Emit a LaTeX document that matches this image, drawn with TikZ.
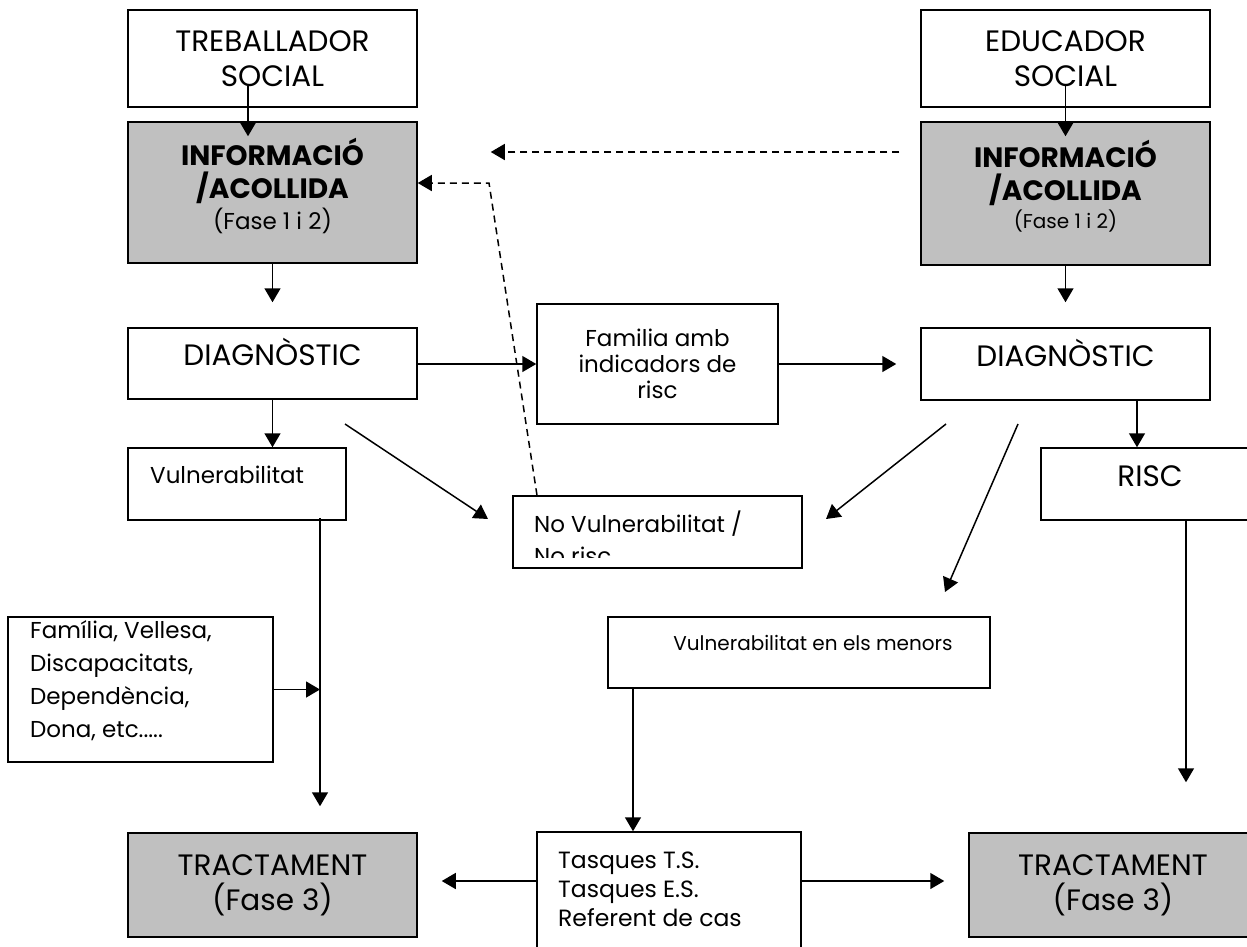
\documentclass[tikz,border=0pt]{standalone}
\usepackage{fontspec}
\setmainfont{Poppins}
\usetikzlibrary{arrows.meta,positioning}
\definecolor{boxgrey}{HTML}{C0C0C0}
\newcommand\fbig{\fontsize{29.5}{35}\selectfont}
\newcommand\fbld{\fontsize{28}{33}\selectfont\bfseries}
\newcommand\fmid{\fontsize{23}{26}\selectfont}
\newcommand\fsml{\fontsize{20}{22}\selectfont}
\newcommand\flst{\fontsize{23}{33}\selectfont}
\tikzset{
  box/.style={draw,line width=1.5pt,inner sep=0pt,align=center},
  greybox/.style={box,fill=boxgrey},
  oneline/.style={text height=0.7em,text depth=0.3em},
  txt/.style={inner sep=0pt,align=left},
  arr/.style={line width=1.5pt,-{Triangle[length=14pt,width=16pt]}},
  dsh/.style={arr,dash pattern=on 7pt off 5pt},
}
\begin{document}
\begin{tikzpicture}[x=1pt,y=-1pt]
\pgfmathsetmacro{\bw}{289}
\useasboundingbox[fill=white] (0,0) rectangle (1247,946);
\node[box,minimum width=\bw pt,minimum height=97pt,font=\fbig] (ts) at (272.5,58.5) {TREBALLADOR\\SOCIAL};
\node[box,minimum width=\bw pt,minimum height=97pt,font=\fbig] (es) at (1065.5,58.5) {EDUCADOR\\SOCIAL};
\node[greybox,minimum width=\bw pt,minimum height=141pt] (infoL) at (272.5,192.5) {};
\node[txt,align=center,font=\fbld] (infoLt) at (272.5,185.5) {INFORMACIÓ\\/ACOLLIDA\\[-2pt]{\fmid\mdseries(Fase 1 i 2)}};
\node[greybox,minimum width=\bw pt,minimum height=143pt] (infoR) at (1065.5,193.5) {};
\node[txt,align=center,font=\fbld] (infoRt) at (1065.5,186.5) {INFORMACIÓ\\/ACOLLIDA\\[-5pt]{\fsml\mdseries(Fase 1 i 2)}};
\node[box,oneline,minimum width=\bw pt,minimum height=71pt,font=\fbig] (diagL) at (272.5,363.5) {DIAGNÒSTIC};
\node[box,oneline,minimum width=\bw pt,minimum height=72pt,font=\fbig] (diagR) at (1065.5,364) {DIAGNÒSTIC};
\node[box,minimum width=241pt,minimum height=120pt,font=\fmid] (fam) at (657.5,364) {Familia amb\\indicadors de\\risc};
\node[box,minimum width=218pt,minimum height=72pt] (vul) at (237,484) {};
\node[txt,anchor=west,font=\fmid] (vult) at (150,475) {Vulnerabilitat};
\node[box,minimum width=\bw pt,minimum height=72pt] (novul) at (657.5,532) {};
\begin{scope}
\clip (513,496) rectangle (802,557);
\node[txt,anchor=base west,font=\fmid] (novulta) at (534,532) {No Vulnerabilitat /};
\node[txt,anchor=base west,font=\fmid] (novultb) at (534,564) {No risc};
\end{scope}
\node[box,oneline,minimum width=218pt,minimum height=72pt,font=\fbig] (risc) at (1150,484) {RISC};
\node[box,minimum width=382pt,minimum height=71pt] (vem) at (799,652.5) {};
\node[txt,font=\fsml] (vemt) at (813,643) {Vulnerabilitat en els menors};
\node[box,minimum width=265pt,minimum height=145pt] (famb) at (140.5,689.5) {};
\node[txt,anchor=west,font=\flst] (fambt) at (30,681) {Família, Vellesa,\\Discapacitats,\\Dependència,\\Dona, etc.....};
\node[box,minimum width=264pt,minimum height=118pt] (tasq) at (669,891) {};
\node[txt,anchor=west,font=\fontsize{23.5}{29}\selectfont] (tasqt) at (558,889) {Tasques T.S.\\Tasques E.S.\\Referent de cas};
\node[greybox,minimum width=\bw pt,minimum height=104pt,font=\fbig] (tractL) at (272.5,885) {TRACTAMENT\\(Fase 3)};
\node[greybox,minimum width=288pt,minimum height=104pt,font=\fbig] (tractR) at (1113,885) {TRACTAMENT\\(Fase 3)};
\coordinate (d1a) at (345,424);
\coordinate (d1b) at (488,519);
\coordinate (d2a) at (946,424);
\coordinate (d2b) at (826,519);
\coordinate (d3a) at (1018,424);
\coordinate (d3b) at (945,592);
\coordinate (bend) at (489,183);
\draw[arr,shorten <=-22pt,shorten >=-15pt] ([xshift=-24.5pt]ts.south) -- ([xshift=-24.5pt]infoL.north);
\draw[arr,shorten <=-22pt,shorten >=-15pt] (es.south) -- (infoR.north);
\draw[arr,shorten >=25pt] (infoL) -- (diagL);
\draw[arr,shorten >=25pt] (infoR) -- (diagR);
\draw[arr] (diagL.east |- fam.west) -- (fam.west);
\draw[arr,shorten >=24pt] (fam.east) -- (diagR.west |- fam.east);
\draw[arr] (diagL.south) -- (diagL.south |- vul.north);
\draw[arr] ([xshift=71.5pt]diagR.south) -- ([xshift=71.5pt]diagR.south |- risc.north);
\draw[arr] (d1a) -- (d1b);
\draw[arr] (d2a) -- (d2b);
\draw[arr] (d3a) -- (d3b);
\draw[dsh,shorten <=21pt] (infoR.west |- 0,152) -- ([xshift=73pt]infoL.east |- 0,152);
\draw[dsh] (novul.north -| 537,0) -- (bend) -- (bend -| infoL.east);
\draw[arr,shorten <=-3pt,shorten >=26pt] ([xshift=83pt]vul.south) -- ([xshift=83pt]vul.south |- tractL.north);
\draw[arr] (famb.east) -- (famb.east -| 320,0);
\draw[arr] (vem.south -| 633,0) -- (tasq.north -| 633,0);
\draw[arr,shorten >=24pt] (tasq.west |- 0,881) -- (tractL.east |- 0,881);
\draw[arr,shorten >=24pt] (tasq.east |- 0,881) -- (tractR.west |- 0,881);
\draw[arr,shorten >=50pt] (risc.south -| 1186,0) -- (tractR.north -| 1186,0);
\end{tikzpicture}
\end{document}
